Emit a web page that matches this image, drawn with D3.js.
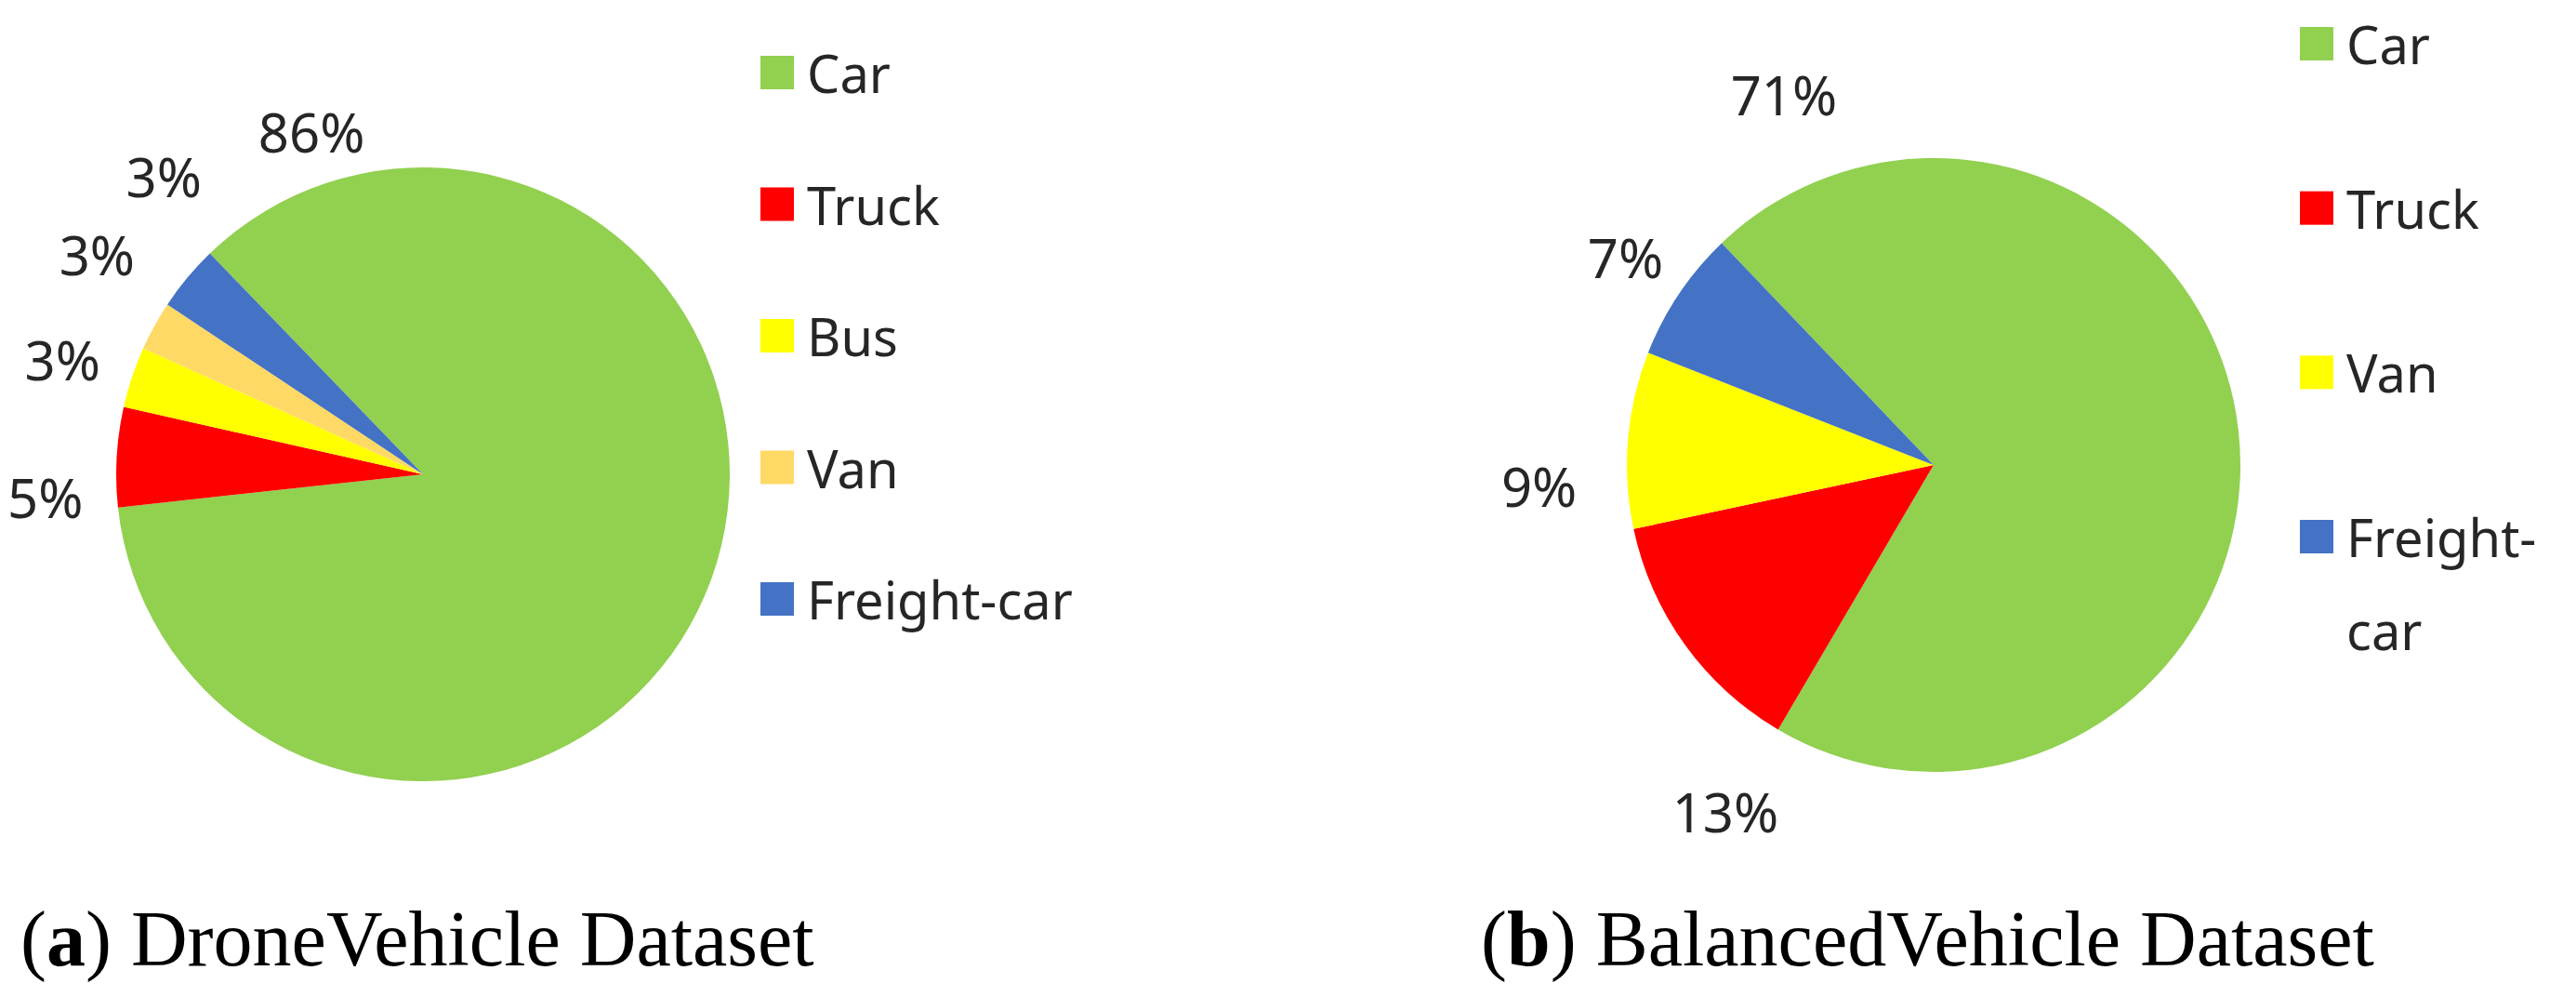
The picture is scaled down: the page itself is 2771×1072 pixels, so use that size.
<!DOCTYPE html>
<html><head><meta charset="utf-8">
<script src="https://cdn.jsdelivr.net/npm/d3@7"></script>
<style>body{margin:0;background:#fff}</style></head>
<body><svg id="c" width="2771" height="1072"></svg>
<script>
// Data
const catsA = ["Car","Truck","Bus","Van","Freight-car"];
const valsA = [85.5, 5.25, 3.2, 2.6, 3.45];
const labelsA = ["86%","5%","3%","3%","3%"];
const catsB = ["Car","Truck","Van","Freight-car"];
const valsB = [70.6, 13.2, 9.3, 6.9];
const labelsB = ["71%","13%","9%","7%"];
const colorMap = {"Car":"#92D050","Truck":"#FF0000","Bus":"#FFFF00","Van":"#FFD966","Freight-car":"#4472C4"};
const colorMapB = {"Car":"#92D050","Truck":"#FF0000","Van":"#FFFF00","Freight-car":"#4472C4"};

const svg = d3.select("#c");
const deg = Math.PI/180;
const txtFont = "'Noto Sans','DejaVu Sans',sans-serif";
const txtColor = "#262626";

function drawPie(o){
  const g = svg.append("g").attr("transform",`translate(${o.cx},${o.cy})`);
  const pie = d3.pie().sort(null).startAngle(o.start*deg).endAngle(o.start*deg+2*Math.PI);
  const arcs = pie(o.vals);
  const arc = d3.arc().innerRadius(0).outerRadius(o.r);
  g.selectAll("path").data(arcs).join("path")
    .attr("d",arc).attr("fill",(d,i)=>o.colors[o.cats[i]]);
  // labels: placed at a label angle/radius (Excel best-fit spreading)
  arcs.forEach((d,i)=>{
    const a = o.labAng[i]*deg, rr = o.labR[i];
    g.append("text").attr("x",rr*Math.sin(a)).attr("y",-rr*Math.cos(a))
      .attr("text-anchor","middle").attr("dominant-baseline","central")
      .attr("font-family",txtFont).attr("font-size",58).attr("fill",txtColor)
      .text(o.labels[i]);
  });
  // legend
  const ly = d3.scalePoint().domain(o.cats).range(o.legY);
  o.cats.forEach(c=>{
    const y = ly(c);
    svg.append("rect").attr("x",o.legX).attr("y",y-18).attr("width",36).attr("height",36).attr("fill",o.colors[c]);
    const lines = o.wrap && c==="Freight-car" ? ["Freight-","car"] : [c];
    lines.forEach((t,k)=>{
      svg.append("text").attr("x",o.legX+50).attr("y",y+k*100).attr("dominant-baseline","central")
        .attr("font-family",txtFont).attr("font-size",56).attr("fill",txtColor).text(t);
    });
  });
  // caption
  const cap = svg.append("text").attr("x",o.capX).attr("y",1038)
    .attr("font-family","'Liberation Serif','Times New Roman',serif").attr("font-size",84).attr("fill","#000");
  cap.append("tspan").text("(");
  cap.append("tspan").attr("font-weight","bold").text(o.capLetter);
  cap.append("tspan").text(") "+o.capText);
}

drawPie({cx:455,cy:510,r:330,start:316,vals:valsA,cats:catsA,labels:labelsA,colors:colorMap,
  labAng:[-18,266.5,287.7,304,319],labR:[388,407,407,423,425],
  legX:818,legY:[78,644],capX:22,capLetter:"a",capText:"DroneVehicle Dataset"});
drawPie({cx:2080,cy:500,r:330,start:316.3,vals:valsB,cats:catsB,labels:labelsB,colors:colorMapB,
  labAng:[-22,211,267,304],labR:[430,435,425,400],
  legX:2474,legY:[47,577],wrap:true,capX:1593,capLetter:"b",capText:"BalancedVehicle Dataset"});
</script></body></html>
